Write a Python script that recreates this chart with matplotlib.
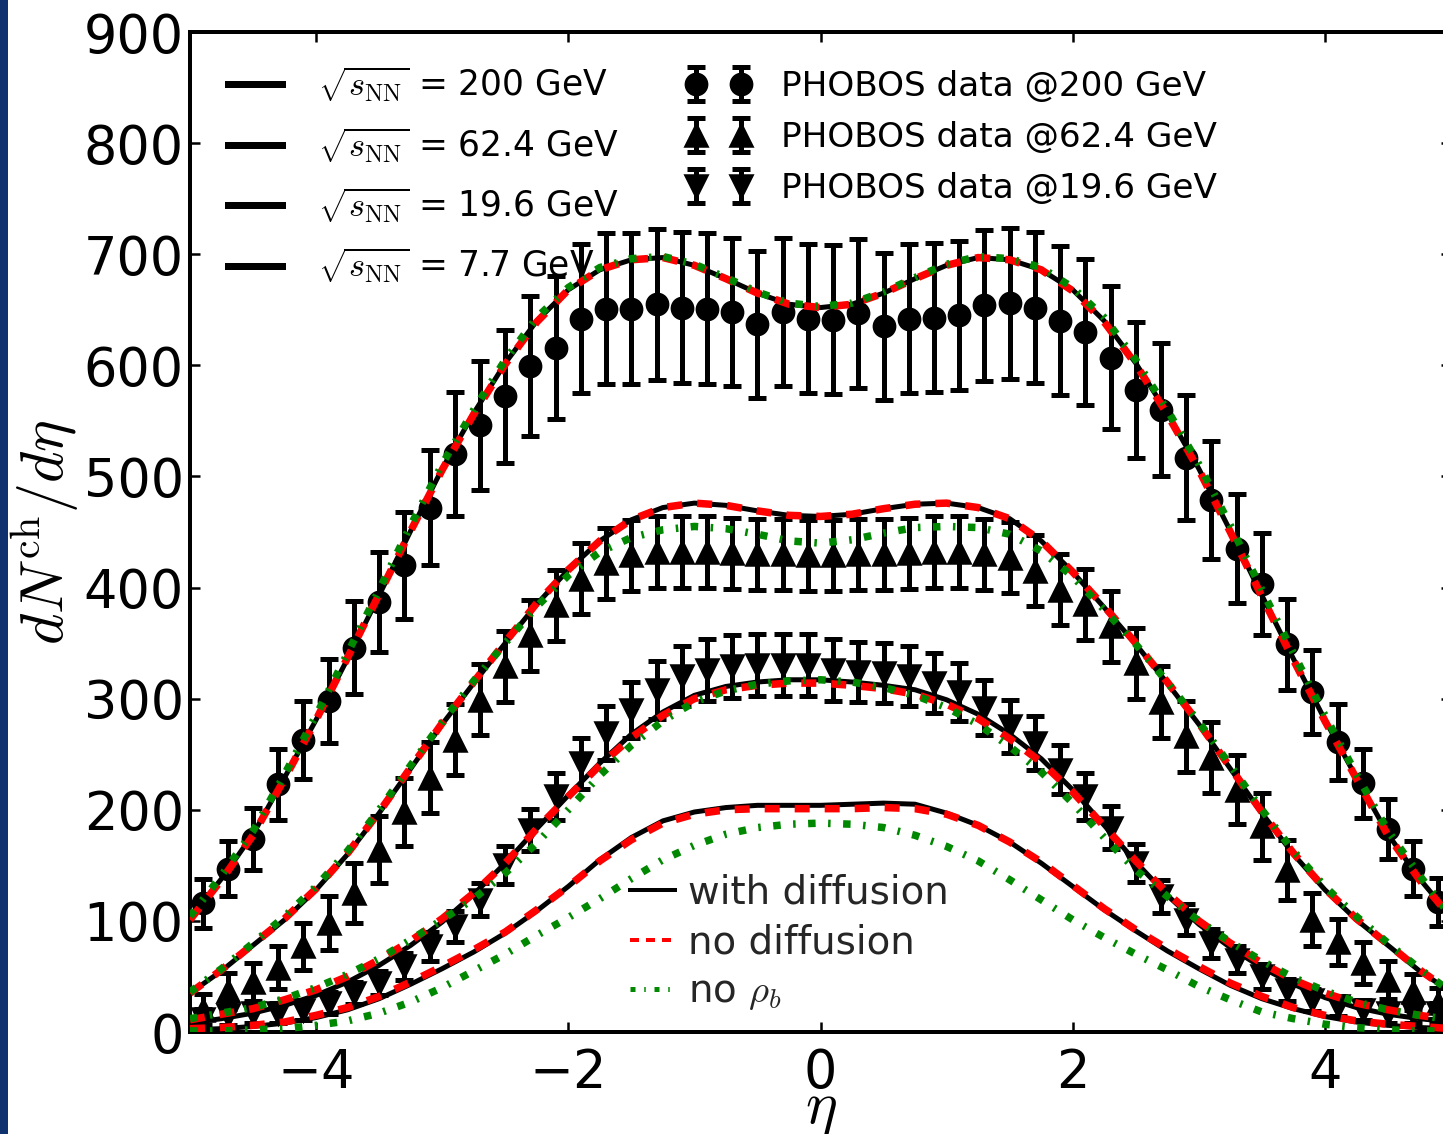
import numpy as np
import matplotlib
matplotlib.use("Agg")
import matplotlib.pyplot as plt
from matplotlib.lines import Line2D
from matplotlib.patches import Rectangle

plt.rcParams['font.family'] = ['DejaVu Sans']
plt.rcParams['mathtext.fontset'] = 'cm'
plt.rcParams['lines.scale_dashes'] = False
plt.rcParams['lines.dash_capstyle'] = 'butt'
plt.rcParams['axes.unicode_minus'] = True

# ---------------- data ----------------
eta_data = [-4.9, -4.7, -4.5, -4.3, -4.1, -3.9, -3.7, -3.5, -3.3, -3.1,
            -2.9, -2.7, -2.5, -2.3, -2.1, -1.9, -1.7, -1.5, -1.3, -1.1,
            -0.9, -0.7, -0.5, -0.3, -0.1, 0.1, 0.3, 0.5, 0.7, 0.9,
            1.1, 1.3, 1.5, 1.7, 1.9, 2.1, 2.3, 2.5, 2.7, 2.9,
            3.1, 3.3, 3.5, 3.7, 3.9, 4.1, 4.3, 4.5, 4.7, 4.9]

phobos_200 = [116, 147, 174, 223, 263, 298, 346, 387, 420, 472,
              520, 546, 572, 599, 616, 642, 651, 651, 655, 652,
              651, 648, 637, 648, 642, 641, 647, 635, 642, 643,
              645, 654, 656, 652, 640, 630, 607, 578, 560, 517,
              479, 435, 403, 349, 306, 261, 224, 183, 147, 117]
phobos_200_err = [22, 25, 28, 32, 35, 38, 42, 45, 48, 52,
                  56, 58, 60, 63, 64, 67, 68, 68, 68, 68,
                  68, 67, 66, 67, 67, 67, 67, 66, 67, 67,
                  67, 68, 68, 68, 67, 66, 64, 61, 60, 56,
                  53, 49, 46, 41, 38, 34, 31, 27, 25, 22]

phobos_62 = [20, 37, 45, 58, 77, 98, 125, 164, 198, 229,
             263, 299, 329, 357, 384, 408, 422, 429, 432, 432,
             432, 431, 430, 430, 429, 429, 430, 430, 431, 432,
             432, 430, 427, 415, 398, 385, 365, 332, 297, 266,
             247, 218, 185, 146, 101, 81, 62, 47, 36, 26]
phobos_62_err = [14, 16, 17, 19, 21, 24, 27, 30, 31, 32,
                 32, 32, 32, 32, 32, 32, 32, 32, 32, 32,
                 32, 32, 32, 32, 32, 32, 32, 32, 32, 32,
                 32, 32, 32, 32, 32, 32, 32, 32, 32, 32,
                 32, 31, 30, 27, 24, 21, 19, 17, 16, 14]

phobos_19 = [12, 15, 17, 17, 20, 26, 35, 44, 59, 77,
             95, 119, 150, 182, 212, 242, 269, 290, 308, 320,
             326, 329, 330, 330, 330, 326, 324, 323, 320, 314,
             306, 292, 275, 260, 236, 212, 184, 152, 122, 101,
             80, 65, 50, 38, 29, 23, 20, 17, 17, 17]
phobos_19_err = [9, 9, 9, 9, 9, 10, 10, 11, 12, 13,
                 14, 15, 17, 19, 21, 23, 24, 25, 26, 27,
                 28, 28, 28, 28, 28, 28, 27, 27, 27, 27,
                 26, 25, 24, 24, 22, 21, 19, 17, 15, 14,
                 13, 12, 11, 10, 10, 9, 9, 9, 9, 9]

eta_model = [-5.0, -4.75, -4.5, -4.25, -4.0, -3.75, -3.5, -3.25, -3.0, -2.75,
             -2.5, -2.25, -2.0, -1.75, -1.5, -1.25, -1.0, -0.75, -0.5, -0.25,
             0.0, 0.25, 0.5, 0.75, 1.0, 1.25, 1.5, 1.75, 2.0, 2.25,
             2.5, 2.75, 3.0, 3.25, 3.5, 3.75, 4.0, 4.25, 4.5, 4.75, 5.0]

# 200 GeV
diff_200 = [102, 138, 178, 229, 281, 336, 393, 451, 507, 557,
            602, 640, 668, 686, 695, 697, 690, 678, 665, 655,
            652, 655, 665, 678, 690, 697, 695, 686, 668, 640,
            602, 557, 507, 451, 393, 336, 281, 229, 178, 138, 104]
nodiff_200 = [101, 137, 177, 228, 281, 337, 394, 451, 506, 556,
              601, 639, 668, 686, 695, 697, 690, 678, 665, 655,
              652, 655, 665, 678, 690, 697, 695, 686, 667, 639,
              601, 556, 506, 450, 392, 335, 280, 228, 177, 137, 103]
norho_200 = [104, 141, 181, 232, 285, 341, 398, 456, 511, 560,
             605, 643, 670, 688, 696, 698, 691, 679, 666, 656,
             653, 656, 666, 679, 691, 698, 696, 688, 670, 643,
             605, 560, 511, 456, 398, 341, 285, 232, 181, 141, 104]

# 62.4 GeV
diff_62 = [35, 55, 78, 101, 128, 160, 197, 237, 277, 314,
           350, 385, 416, 442, 461, 472, 476, 474, 469, 465,
           464, 466, 471, 475, 476, 472, 462, 442, 414, 382,
           349, 314, 277, 237, 197, 160, 128, 101, 78, 55, 36]
nodiff_62 = [35, 56, 79, 102, 129, 161, 198, 238, 278, 315,
             351, 386, 416, 442, 461, 472, 476, 474, 469, 465,
             464, 466, 471, 475, 476, 472, 462, 442, 414, 383,
             350, 315, 278, 238, 198, 161, 129, 102, 79, 56, 36]
norho_62 = [36, 57, 80, 104, 131, 163, 200, 240, 279, 316,
            350, 383, 411, 432, 445, 452, 455, 453, 448, 442,
            440, 443, 449, 454, 455, 454, 448, 433, 410, 380,
            349, 315, 279, 240, 200, 163, 131, 104, 80, 57, 36]

# 19.6 GeV
diff_19 = [8, 12, 17, 24, 33, 45, 60, 78, 99, 124,
           152, 183, 213, 242, 268, 288, 303, 311, 315, 317,
           317, 315, 312, 308, 299, 286, 268, 246, 218, 186,
           153, 123, 97, 76, 58, 43, 31, 22, 16, 12, 9]
nodiff_19 = [11, 16, 21, 29, 38, 50, 65, 82, 102, 125,
             152, 183, 212, 240, 265, 285, 300, 308, 312, 314,
             314, 312, 309, 304, 295, 282, 264, 243, 216, 185,
             154, 125, 100, 80, 62, 47, 35, 26, 20, 15, 11]
norho_19 = [12, 17, 22, 30, 40, 52, 66, 83, 101, 120,
            143, 170, 200, 231, 258, 280, 297, 307, 313, 316,
            317, 315, 310, 303, 292, 277, 257, 234, 206, 175,
            146, 122, 100, 81, 64, 49, 37, 27, 20, 15, 11]

# 7.7 GeV
diff_77 = [2, 3, 5, 8, 13, 20, 30, 43, 57, 72,
           89, 109, 131, 155, 175, 190, 198, 202, 204, 204,
           204, 205, 206, 205, 197, 186, 171, 152, 131, 110,
           91, 73, 57, 42, 30, 21, 14, 9, 6, 4, 3]
nodiff_77 = [3, 4, 6, 9, 15, 22, 32, 45, 59, 74,
             90, 110, 131, 154, 173, 188, 196, 200, 201, 201,
             201, 201, 202, 201, 196, 186, 171, 153, 132, 111,
             92, 75, 59, 44, 32, 22, 15, 10, 7, 5, 3]
norho_77 = [1, 1, 2, 3, 6, 10, 17, 27, 40, 55,
            70, 87, 103, 120, 138, 155, 168, 178, 184, 187,
            188, 187, 184, 177, 167, 154, 137, 119, 101, 85,
            70, 56, 41, 29, 18, 12, 7, 4, 2, 1, 1]

energy_labels = [r'$\sqrt{s_{\rm NN}}$ = 200 GeV', r'$\sqrt{s_{\rm NN}}$ = 62.4 GeV',
                 r'$\sqrt{s_{\rm NN}}$ = 19.6 GeV', r'$\sqrt{s_{\rm NN}}$ = 7.7 GeV']
data_labels = ['PHOBOS data @200 GeV', 'PHOBOS data @62.4 GeV', 'PHOBOS data @19.6 GeV']
style_labels = ['with diffusion', 'no diffusion', r'no $\rho_b$']
x_ticks = [-4, -2, 0, 2, 4]
y_ticks = [0, 100, 200, 300, 400, 500, 600, 700, 800, 900]

# ---------------- figure ----------------
W, H, DPI = 1443, 1134, 180
fig = plt.figure(figsize=(W / DPI, H / DPI), dpi=DPI)
fig.patches.append(Rectangle((0, 0), 8 / W, 1, transform=fig.transFigure,
                             facecolor='#0f316e', edgecolor='none', zorder=-1))
ax = fig.add_axes([190 / W, 102 / H, 1261 / W, 1000 / H])

mkw = dict(linestyle='none', color='black', markersize=8.5, zorder=2,
           ecolor='black', elinewidth=2.0, capsize=3.6, capthick=2.0)

e200 = ax.errorbar(eta_data, phobos_200, yerr=phobos_200_err, marker='o', **mkw)
e62 = ax.errorbar(eta_data, phobos_62, yerr=phobos_62_err, marker='^', **mkw)
e19 = ax.errorbar(eta_data, phobos_19, yerr=phobos_19_err, marker='v', **mkw)

for d, nd, nr in [(diff_200, nodiff_200, norho_200), (diff_62, nodiff_62, norho_62),
                  (diff_19, nodiff_19, norho_19), (diff_77, nodiff_77, norho_77)]:
    ax.plot(eta_model, d, color='black', lw=2.0, solid_capstyle='butt', zorder=3)
    ax.plot(eta_model, nd, color='#ff0000', lw=3.0, linestyle=(0, (6, 6)), zorder=4)
    ax.plot(eta_model, nr, color='#008800', lw=3.0, linestyle=(0, (3, 5, 1, 5)), zorder=5)

ax.set_xlim(-5, 5)
ax.set_ylim(0, 900)
ax.set_xticks(x_ticks)
ax.set_yticks(y_ticks)
ax.tick_params(direction='in', length=4, width=1.0, top=True, right=True, labelsize=21)
ax.tick_params(axis='y', pad=2.5)
ax.tick_params(axis='x', pad=6)
for s in ax.spines.values():
    s.set_linewidth(1.6)
ax.set_xlabel(r'$\eta$', fontsize=24, labelpad=-8)
ax.set_ylabel(r'$dN^{\rm ch}/d\eta$', fontsize=24, labelpad=1)

# legend 1 : energies
proxies1 = [Line2D([], [], color='black', lw=2.8) for _ in energy_labels]
leg1 = ax.legend(proxies1, energy_labels, loc='upper left', bbox_to_anchor=(0.030, 0.967),
                 frameon=False, fontsize=13.8, handlelength=1.56, handletextpad=1.05,
                 labelspacing=0.62, borderpad=0, borderaxespad=0)
ax.add_artist(leg1)

# legend 2 : data
leg2 = ax.legend([e200, e62, e19], data_labels, loc='upper left', bbox_to_anchor=(0.393, 0.962),
                 frameon=False, fontsize=13.7, numpoints=2, handlelength=1.93, handletextpad=0.86,
                 labelspacing=0.52, borderpad=0, borderaxespad=0)
ax.add_artist(leg2)

# legend 3 : model styles
proxies3 = [Line2D([], [], color='black', lw=1.6),
            Line2D([], [], color='#ff0000', lw=1.6, linestyle=(0, (3.6, 2.8))),
            Line2D([], [], color='#008800', lw=2.0, linestyle=(0, (2, 3.5, 0.6, 3.5)))]
leg3 = ax.legend(proxies3, style_labels, loc='upper left', bbox_to_anchor=(0.349, 0.158),
                 frameon=False, fontsize=15.5, handlelength=1.16, handletextpad=0.34,
                 labelspacing=0.29, borderpad=0, borderaxespad=0)
for t in leg3.get_texts():
    t.set_color('#262626')

fig.savefig('out.png', dpi=DPI)
